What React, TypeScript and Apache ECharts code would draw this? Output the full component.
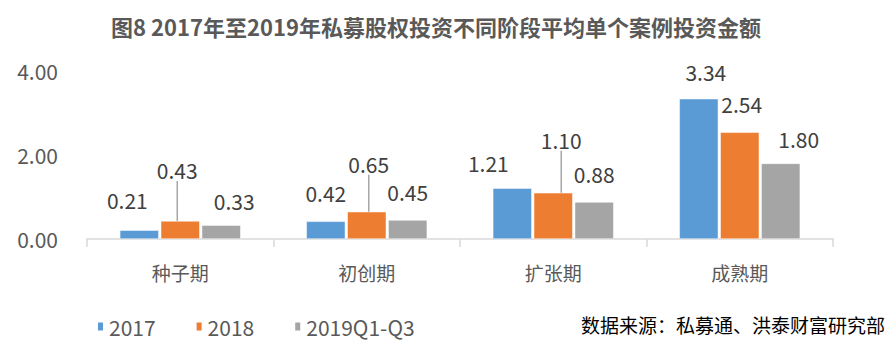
import React, { useEffect, useRef } from "react";
import * as echarts from "echarts";

const categories = ["种子期", "初创期", "扩张期", "成熟期"];
const seriesNames = ["2017", "2018", "2019Q1-Q3"];
const values2017 = [0.21, 0.42, 1.21, 3.34];
const values2018 = [0.43, 0.65, 1.1, 2.54];
const values2019 = [0.33, 0.45, 0.88, 1.8];
const yTicks = [0, 2, 4];
const colors = ["#5B9BD5", "#ED7D31", "#A5A5A5"];

// manual label displacements [dx, dy] per series / category (as in the reference)
const labelShift: number[][][] = [
  [[-12, -15], [0, -13], [-24, -10], [7, -11]],
  [[-3, -35], [2, -32], [8, -37], [2, -13]],
  [[13, -9], [0, -13], [0, -13], [18, -9]],
];
const leaderLine = [false, true, false];
const leaderSkip = [[], [3], []] as number[][];

const FONT = "'Noto Sans CJK SC', 'Noto Sans', sans-serif";

export default function App() {
  const ref = useRef<HTMLDivElement>(null);
  useEffect(() => {
    document.body.style.margin = "0";
    if (!ref.current) return;
    const chart = echarts.init(ref.current, undefined, { renderer: "svg" });
    const allValues = [values2017, values2018, values2019];
    chart.setOption({
      animation: false,
      backgroundColor: "#ffffff",
      textStyle: { fontFamily: FONT },
      title: {
        text: "图8 2017年至2019年私募股权投资不同阶段平均单个案例投资金额",
        left: 431,
        textAlign: "center",
        top: 10,
        textStyle: { fontSize: 22, fontWeight: "bold", color: "#595959", fontFamily: FONT },
      },
      legend: {
        left: 96,
        top: 316,
        padding: 0,
        itemWidth: 7,
        itemHeight: 10,
        itemGap: 39,
        icon: "rect",
        textStyle: { fontSize: 21, color: "#595959", fontFamily: FONT },
        data: seriesNames,
      },
      graphic: [
        {
          type: "text",
          right: 10,
          top: 315,
          style: {
            text: "数据来源：私募通、洪泰财富研究部",
            fontSize: 19,
            fill: "#000000",
            fontFamily: FONT,
          },
        },
      ],
      grid: { left: 87, right: 62, top: 71, bottom: 110 },
      xAxis: {
        type: "category",
        data: categories,
        axisLine: { lineStyle: { color: "#D9D9D9", width: 1.5 } },
        axisTick: { show: true, length: 8, lineStyle: { color: "#D9D9D9", width: 1.5 } },
        axisLabel: { fontSize: 19, color: "#595959", margin: 24, fontFamily: FONT },
      },
      yAxis: {
        type: "value",
        min: yTicks[0],
        max: yTicks[yTicks.length - 1],
        interval: yTicks[1] - yTicks[0],
        splitLine: { show: false },
        axisLine: { show: false },
        axisTick: { show: false },
        axisLabel: {
          fontSize: 21,
          color: "#595959",
          margin: 29,
          fontFamily: FONT,
          formatter: (v: number) => v.toFixed(2),
        },
      },
      labelLayout: (params: any) => {
        const s = labelShift[params.seriesIndex]?.[params.dataIndex];
        if (!s) return {};
        return { dx: s[0], dy: s[1] };
      },
      series: allValues.map((vals, si) => ({
        name: seriesNames[si],
        type: "bar",
        barWidth: 39,
        barGap: "5%",
        itemStyle: { color: colors[si], borderColor: "#ffffff", borderWidth: 0.5 },
        label: {
          show: true,
          position: "top",
          distance: 5,
          fontSize: 21,
          color: "#404040",
          fontFamily: FONT,
          formatter: (p: any) => Number(p.value).toFixed(2),
        },
        labelLine: leaderLine[si]
          ? { show: true, lineStyle: { color: "#A6A6A6", width: 1.5 } }
          : { show: false },
        data: vals.map((v, di) =>
          leaderSkip[si].includes(di) ? { value: v, labelLine: { show: false } } : v
        ),
      })),
    });
    return () => chart.dispose();
  }, []);
  return <div ref={ref} style={{ width: 895, height: 349 }} />;
}
